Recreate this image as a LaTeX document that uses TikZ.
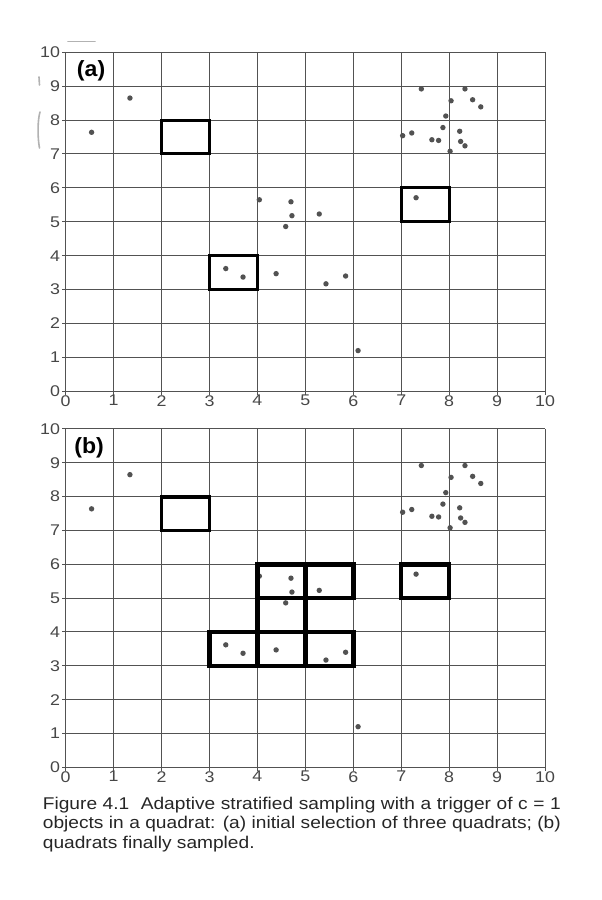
\documentclass[tikz,border=0pt]{standalone}
\usepackage{fontspec}
\setmainfont{Liberation Sans}
\usepackage{graphicx}
\tikzset{
  gridline/.style={draw=black!68, line width=1pt},
  ticklab/.style={font=\fontsize{15.5}{15.5}\selectfont, text=black!72, inner sep=0pt},
  dot/.style={fill=black!68},
  quadA/.style={draw=black, line width=3pt},
  quadB/.style={draw=black, line width=4.5pt},
  panellab/.style={font=\fontsize{22}{22}\selectfont\bfseries, inner sep=0pt},
  artifact/.style={draw=black!30, line width=1.6pt, line cap=round},
}
\newcommand\drawpanel[1]{%
  \foreach \i in {0,...,10} {
    \draw[gridline] (\i,0) -- (\i,10);
    \draw[gridline] (0,\i) -- (10,\i);
    \draw[gridline] (\i,0) -- ++(0,-4pt);
    \draw[gridline] (0,\i) -- ++(-4pt,0);
    \node[ticklab, anchor=east] (#1y\i) at ([xshift=-5.5pt]0,\i) {\scalebox{1.15}[1]{\i}};
    \node[ticklab, anchor=north] (#1x\i) at ([yshift=-3.8pt]\i,0) {\scalebox{1.15}[1]{\i}};
  }
  \foreach \px/\py in {0.54/7.64,1.34/8.65,4.04/5.65,4.70/5.59,4.72/5.18,5.29/5.23,4.59/4.86,
    3.34/3.62,3.70/3.37,4.39/3.47,5.43/3.17,5.84/3.40,6.10/1.20,
    7.42/8.92,8.33/8.92,8.04/8.57,8.49/8.60,8.66/8.39,7.93/8.12,7.87/7.78,8.22/7.67,
    7.03/7.54,7.22/7.62,7.64/7.42,7.78/7.40,8.24/7.37,8.33/7.24,8.02/7.08,7.31/5.71} {
    \fill[dot] (\px,\py) circle (2.7pt);
  }
}
\begin{document}
\begin{tikzpicture}
\useasboundingbox (0pt,0pt) rectangle (602pt,900pt);
\fill[white] (0pt,0pt) rectangle (602pt,900pt);
% scan artifacts
\draw[artifact] (68pt,858.3pt) -- (95pt,858.3pt);
\draw[artifact] (39pt,823pt) -- (39.5pt,815pt);
\draw[artifact] (40pt,788pt) .. controls (37.5pt,780pt) and (37.5pt,762pt) .. (39.5pt,752pt);
% panel (a)
\begin{scope}[shift={(65.7pt,508.7pt)}, x=47.93pt, y=33.9pt]
  \drawpanel{a}
  \draw[quadA] (2,7) rectangle (3,8);
  \draw[quadA] (3,3) rectangle (4,4);
  \draw[quadA] (7,5) rectangle (8,6);
  \node[panellab] (la) at (0.53,9.45) {\scalebox{1.05}[1]{(a)}};
\end{scope}
% panel (b)
\begin{scope}[shift={(65.7pt,132.7pt)}, x=47.93pt, y=33.83pt]
  \drawpanel{b}
  \draw[quadB, line width=3.8pt] (2,7) rectangle (3,8);
  \draw[quadB] (7,5) rectangle (8,6);
  \draw[quadB] (4,5) rectangle (5,6);
  \draw[quadB] (5,5) rectangle (6,6);
  \draw[quadB] (4,4) rectangle (5,5);
  \draw[quadB] (3,3) rectangle (4,4);
  \draw[quadB] (4,3) rectangle (5,4);
  \draw[quadB] (5,3) rectangle (6,4);
  \node[panellab] (lb) at (0.49,9.44) {\scalebox{1.05}[1]{(b)}};
\end{scope}
% caption
\node[anchor=north west, inner sep=0pt, text=black!85] (cap) at (42.7pt,103.3pt) {\scalebox{1.126}[1]{\parbox{460pt}{\fontsize{17}{19.5}\selectfont
Figure 4.1\hspace{0.6em}Adaptive stratified sampling with a trigger of c = 1\linebreak
objects in a quadrat: (a) initial selection of three quadrats; (b)\linebreak
quadrats finally sampled.}}};
\end{tikzpicture}
\end{document}
